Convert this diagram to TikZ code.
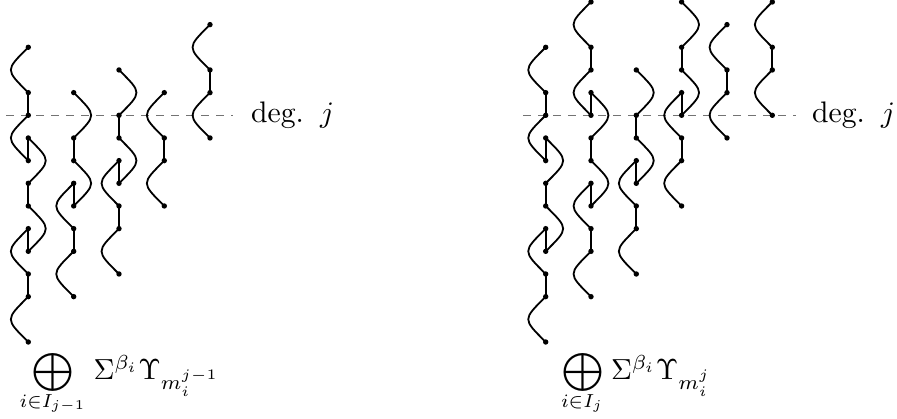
\documentclass[tikz,border=0pt]{standalone}
\usepackage{amsmath}
\newcommand{\strandpts}[3]{% name, x, list of levels
  \foreach \k in {#3}{\node[ptdot] (#1\k) at (#2,{115.3+22.67*\k}) {};}}
\newcommand{\stL}[3]{\draw[strand] (#1#2.center) to[lbend] (#1#3.center);}
\newcommand{\stR}[3]{\draw[strand] (#1#2.center) to[rbend] (#1#3.center);}
\newcommand{\stS}[3]{\draw[strand] (#1#2.center) -- (#1#3.center);}
\tikzset{
  ptdot/.style={circle,fill=black,inner sep=0pt,minimum size=5.4pt},
  strand/.style={line width=1.8pt,black},
  lbend/.style={out=-135,in=135,looseness=1.86},
  rbend/.style={out=-45,in=45,looseness=1.86},
  level/.style={gray!90!black,line width=0.9pt,dash pattern=on 8pt off 7pt},
  deglabel/.style={scale=2.97,inner sep=0pt,anchor=base west},
  mainlabel/.style={scale=2.9,inner sep=0pt,anchor=base west},
  oplabel/.style={scale=2.71,inner sep=0pt,anchor=center},
  sublabel/.style={scale=2.7,inner sep=0pt,anchor=base},
}
\begin{document}
\begin{tikzpicture}[x=1pt,y=-1pt]
\useasboundingbox (0,0) rectangle (897,419);
% level lines
\coordinate (ls1) at (6,115.3); \coordinate (le1) at (233,115.3);
\coordinate (ls2) at (523,115.3); \coordinate (le2) at (796,115.3);
\draw[level] (ls1) -- (le1);
\draw[level] (ls2) -- (le2);
% left picture
\strandpts{a}{28.3}{-3,-1,0,2,1,3,4,6,5,7,8,10}
\stL{a}{-3}{-1}\stS{a}{-1}{0}\stL{a}{0}{2}\stS{a}{2}{1}\stR{a}{1}{3}\stS{a}{3}{4}\stR{a}{4}{6}\stS{a}{6}{5}\stL{a}{5}{7}\stS{a}{7}{8}\stL{a}{8}{10}
\strandpts{b}{73.7}{-1,1,2,4,3,5,6,8}
\stR{b}{-1}{1}\stS{b}{1}{2}\stR{b}{2}{4}\stS{b}{4}{3}\stL{b}{3}{5}\stS{b}{5}{6}\stL{b}{6}{8}
\strandpts{c}{119}{-2,0,1,3,2,4,5,7}
\stR{c}{-2}{0}\stS{c}{0}{1}\stR{c}{1}{3}\stS{c}{3}{2}\stL{c}{2}{4}\stS{c}{4}{5}\stL{c}{5}{7}
\strandpts{d}{164.3}{-1,1,2,4}
\stL{d}{-1}{1}\stS{d}{1}{2}\stL{d}{2}{4}
\strandpts{e}{210}{-4,-2,-1,1}
\stL{e}{-4}{-2}\stS{e}{-2}{-1}\stL{e}{-1}{1}
% right picture
\strandpts{p}{545.7}{-3,-1,0,2,1,3,4,6,5,7,8,10}
\stL{p}{-3}{-1}\stS{p}{-1}{0}\stL{p}{0}{2}\stS{p}{2}{1}\stR{p}{1}{3}\stS{p}{3}{4}\stR{p}{4}{6}\stS{p}{6}{5}\stL{p}{5}{7}\stS{p}{7}{8}\stL{p}{8}{10}
\strandpts{q}{591}{-5,-3,-2,0,-1,1,2,4,3,5,6,8}
\stL{q}{-5}{-3}\stS{q}{-3}{-2}\stL{q}{-2}{0}\stS{q}{0}{-1}\stR{q}{-1}{1}\stS{q}{1}{2}\stR{q}{2}{4}\stS{q}{4}{3}\stL{q}{3}{5}\stS{q}{5}{6}\stL{q}{6}{8}
\strandpts{r}{636.3}{-2,0,1,3,2,4,5,7}
\stR{r}{-2}{0}\stS{r}{0}{1}\stR{r}{1}{3}\stS{r}{3}{2}\stL{r}{2}{4}\stS{r}{4}{5}\stL{r}{5}{7}
\strandpts{s}{681.6}{-5,-3,-2,0,-1,1,2,4}
\stR{s}{-5}{-3}\stS{s}{-3}{-2}\stR{s}{-2}{0}\stS{s}{0}{-1}\stL{s}{-1}{1}\stS{s}{1}{2}\stL{s}{2}{4}
\strandpts{t}{727}{-4,-2,-1,1}
\stL{t}{-4}{-2}\stS{t}{-2}{-1}\stL{t}{-1}{1}
\strandpts{u}{772.3}{-5,-3,-2,0}
\stL{u}{-5}{-3}\stS{u}{-3}{-2}\stL{u}{-2}{0}
% labels
\node[deglabel] (deg1) at (250.5,123) {deg.\hspace{5.5pt}$j$};
\node[deglabel] (deg2) at (811.5,123) {deg.\hspace{5.5pt}$j$};
\node[oplabel] (op1) at (53,372) {$\displaystyle\bigoplus$};
\node[sublabel] (sub1) at (52.5,407) {$\scriptstyle i\in I_{j-1}$};
\node[mainlabel] (sum1) at (93,380) {$\Sigma^{\beta_i}\Upsilon_{m_i^{j-1}}$};
\node[oplabel] (op2) at (583.3,372) {$\displaystyle\bigoplus$};
\node[sublabel] (sub2) at (582,407) {$\scriptstyle i\in I_j$};
\node[mainlabel] (sum2) at (610.5,380) {$\Sigma^{\beta_i}\Upsilon_{m_i^j}$};
\end{tikzpicture}
\end{document}
